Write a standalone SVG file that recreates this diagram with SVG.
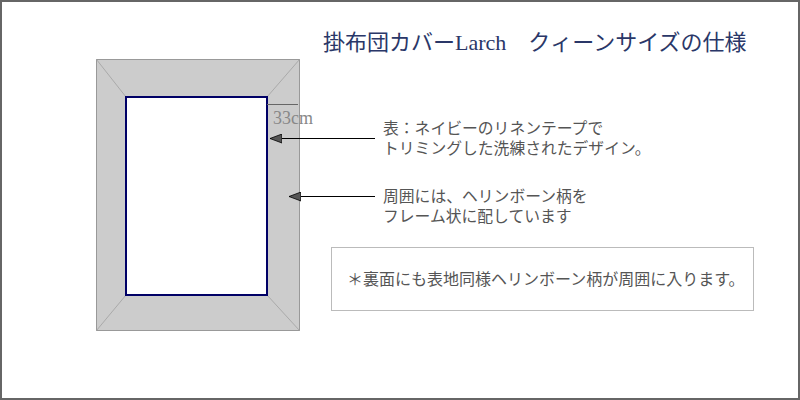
<svg xmlns="http://www.w3.org/2000/svg" width="800" height="400" viewBox="0 0 800 400">
<defs>
<style>
.body{font-family:"Noto Sans CJK JP","Noto Sans",sans-serif;font-size:15.8px;fill:#555}
.box{font-size:16px}
.title{font-family:"Liberation Serif","Noto Sans CJK JP",serif;font-size:22px;fill:#2a3768}
.dim{font-family:"Liberation Serif",serif;font-size:18px;fill:#888}
.conn{stroke:#000;stroke-width:1;fill:none}
.diag{stroke:#aaa;stroke-width:1}
</style>
<marker id="ah" viewBox="0 0 12 10" refX="12" refY="5" markerWidth="12" markerHeight="10" markerUnits="userSpaceOnUse" orient="auto">
<path d="M12,5 L0,0.5 L0,9.5 Z" fill="#555" stroke="#000" stroke-width="0.8"/>
</marker>
</defs>
<rect x="1" y="1" width="798" height="398" fill="#fff" stroke="#666" stroke-width="2"/>
<text class="title" x="323" y="50">掛布団カバーLarch　クィーンサイズの仕様</text>
<g id="cover">
<rect x="96.5" y="59.5" width="203" height="271" fill="#ccc" stroke="#999" stroke-width="1"/>
<line class="diag" x1="96.5" y1="59.5" x2="126" y2="97"/>
<line class="diag" x1="299.5" y1="59.5" x2="267" y2="97"/>
<line class="diag" x1="96.5" y1="330.5" x2="126" y2="295"/>
<line class="diag" x1="299.5" y1="330.5" x2="267" y2="295"/>
<rect x="126" y="97" width="141" height="198" fill="#fff" stroke="#000066" stroke-width="2"/>
</g>
<g id="dimension">
<line x1="267" y1="104.5" x2="298" y2="104.5" stroke="#666" stroke-width="1"/>
<text class="dim" x="273" y="124">33cm</text>
</g>
<g id="connectors">
<line class="conn" x1="375" y1="138.5" x2="270" y2="138.5" marker-end="url(#ah)"/>
<line class="conn" x1="375" y1="196.5" x2="289" y2="196.5" marker-end="url(#ah)"/>
</g>
<g id="note-front">
<text class="body" x="383" y="134">表：ネイビーのリネンテープで</text>
<text class="body" x="383" y="154">トリミングした洗練されたデザイン。</text>
</g>
<g id="note-frame">
<text class="body" x="383" y="202">周囲には、ヘリンボーン柄を</text>
<text class="body" x="383" y="222">フレーム状に配しています</text>
</g>
<g id="note-back">
<rect x="331.5" y="247.5" width="422" height="63" fill="#fff" stroke="#bbb" stroke-width="1"/>
<text class="body box" x="347" y="285">＊裏面にも表地同様ヘリンボーン柄が周囲に入ります。</text>
</g>
</svg>
